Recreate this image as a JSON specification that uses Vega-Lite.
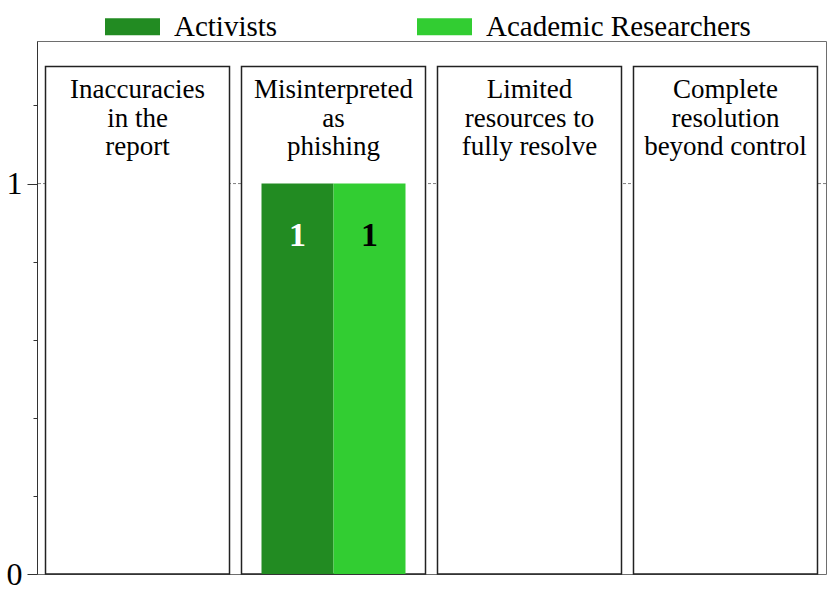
{
  "$schema": "https://vega.github.io/schema/vega-lite/v6.json",
  "width": 789,
  "height": 533,
  "autosize": "none",
  "padding": {"left": 37, "top": 41, "right": 5, "bottom": 24},
  "background": "white",
  "config": {
    "view": {"stroke": "#6e6e6e", "strokeWidth": 1},
    "font": "Liberation Serif"
  },
  "datasets": {
    "panels": [
      {"category": "Inaccuracies in the report", "title": "Inaccuracies\nin the\nreport"},
      {"category": "Misinterpreted as phishing", "title": "Misinterpreted\nas\nphishing"},
      {"category": "Limited resources to fully resolve", "title": "Limited\nresources to\nfully resolve"},
      {"category": "Complete resolution beyond control", "title": "Complete\nresolution\nbeyond control"}
    ],
    "counts": [
      {"category": "Inaccuracies in the report", "group": "Activists", "count": 0},
      {"category": "Inaccuracies in the report", "group": "Academic Researchers", "count": 0},
      {"category": "Misinterpreted as phishing", "group": "Activists", "count": 1},
      {"category": "Misinterpreted as phishing", "group": "Academic Researchers", "count": 1},
      {"category": "Limited resources to fully resolve", "group": "Activists", "count": 0},
      {"category": "Limited resources to fully resolve", "group": "Academic Researchers", "count": 0},
      {"category": "Complete resolution beyond control", "group": "Activists", "count": 0},
      {"category": "Complete resolution beyond control", "group": "Academic Researchers", "count": 0}
    ]
  },
  "resolve": {"axis": {"y": "independent"}},
  "layer": [
    {
      "data": {"name": "panels"},
      "mark": {"type": "rule", "stroke": "#888888", "strokeDash": [3, 2], "strokeWidth": 1},
      "encoding": {
        "y": {
          "datum": 1,
          "type": "quantitative",
          "scale": {"domain": [0, 1.365], "nice": false, "zero": true},
          "axis": {
            "orient": "left",
            "values": [0, 1],
            "format": "d",
            "tickSize": 10,
            "tickColor": "#333333",
            "domainColor": "#333333",
            "labelFont": "Liberation Serif",
            "labelFontSize": 32,
            "labelColor": "black",
            "labelPadding": 5,
            "grid": false,
            "title": null
          }
        }
      }
    },
    {
      "data": {"name": "panels"},
      "mark": {"type": "bar", "fill": "white", "stroke": "#222222", "strokeWidth": 1.5},
      "encoding": {
        "x": {
          "field": "category",
          "type": "nominal",
          "sort": ["Inaccuracies in the report", "Misinterpreted as phishing", "Limited resources to fully resolve", "Complete resolution beyond control"],
          "scale": {"paddingInner": 0.0612, "paddingOuter": 0.0434},
          "axis": null
        },
        "y": {
          "datum": 1.3,
          "type": "quantitative",
          "axis": {
            "orient": "left",
            "values": [0.2, 0.4, 0.6, 0.8, 1.2],
            "tickSize": 4,
            "tickColor": "#333333",
            "labels": false,
            "domain": false,
            "grid": false,
            "title": null
          }
        },
        "y2": {"datum": 0}
      }
    },
    {
      "data": {"name": "counts"},
      "mark": {"type": "bar"},
      "encoding": {
        "x": {"field": "category", "type": "nominal", "sort": ["Inaccuracies in the report", "Misinterpreted as phishing", "Limited resources to fully resolve", "Complete resolution beyond control"]},
        "xOffset": {
          "field": "group",
          "type": "nominal",
          "sort": ["Activists", "Academic Researchers"],
          "scale": {"paddingInner": 0, "paddingOuter": 0.2778}
        },
        "y": {"field": "count", "type": "quantitative", "axis": null},
        "color": {
          "field": "group",
          "type": "nominal",
          "scale": {"domain": ["Activists", "Academic Researchers"], "range": ["#228B22", "#32CD32"]},
          "legend": {
            "orient": "none",
            "direction": "horizontal",
            "legendX": 68,
            "legendY": -42,
            "title": null,
            "padding": 0,
            "symbolType": "M-1,-0.31H1V0.31H-1Z",
            "symbolSize": 3025,
            "symbolStrokeWidth": 0,
            "symbolOpacity": 1,
            "labelFont": "Liberation Serif",
            "labelFontSize": 29,
            "labelColor": "black",
            "labelOffset": 14,
            "labelLimit": 400,
            "columnPadding": 139
          }
        }
      }
    },
    {
      "data": {"name": "counts"},
      "transform": [{"filter": "datum.count > 0"}],
      "mark": {"type": "text", "font": "Liberation Serif", "fontSize": 34, "fontWeight": "bold", "baseline": "alphabetic", "dy": 62},
      "encoding": {
        "x": {"field": "category", "type": "nominal", "sort": ["Inaccuracies in the report", "Misinterpreted as phishing", "Limited resources to fully resolve", "Complete resolution beyond control"]},
        "xOffset": {"field": "group", "type": "nominal", "sort": ["Activists", "Academic Researchers"]},
        "y": {"field": "count", "type": "quantitative", "axis": null},
        "text": {"field": "count", "type": "quantitative"},
        "color": {"condition": {"test": "datum.group === 'Activists'", "value": "white"}, "value": "black"}
      }
    },
    {
      "data": {"name": "panels"},
      "mark": {"type": "text", "font": "Liberation Serif", "fontSize": 27, "baseline": "alphabetic", "dy": 32, "lineBreak": "\n", "lineHeight": 28.5, "color": "black"},
      "encoding": {
        "x": {"field": "category", "type": "nominal", "sort": ["Inaccuracies in the report", "Misinterpreted as phishing", "Limited resources to fully resolve", "Complete resolution beyond control"]},
        "y": {"datum": 1.3, "type": "quantitative", "axis": null},
        "text": {"field": "title"}
      }
    }
  ]
}
